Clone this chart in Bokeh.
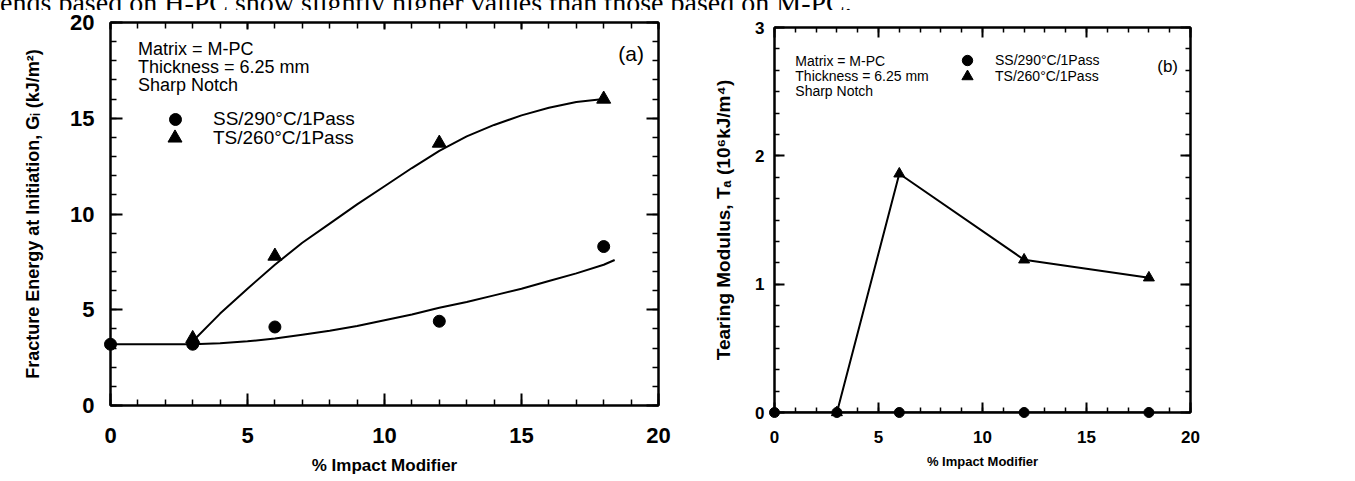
from bokeh.plotting import figure
from bokeh.models import (Range1d, LinearAxis, SingleIntervalTicker, Label,
                          Legend, LegendItem, Div, CustomJSTickFormatter)
from bokeh.layouts import row, column
from bokeh.embed import file_html
from bokeh.resources import INLINE

# ---------------- data ----------------
# % impact modifier
x_ss = [0, 3, 6, 12, 18]
x_ts = [3, 6, 12, 18]

# (a) fracture energy at initiation, G_I (kJ/m^2)
gi_ss = [3.2, 3.2, 4.1, 4.4, 8.3]
gi_ts = [3.5, 7.8, 13.7, 16.0]

# (a) trend curves through each series
fit_ss_x = [0, 3, 4, 5, 6, 7, 8, 9, 10, 11, 12, 13, 14, 15, 16, 17, 18, 18.4]
fit_ss_y = [3.2, 3.2, 3.25, 3.35, 3.5, 3.7, 3.9, 4.15, 4.45, 4.75, 5.1, 5.4,
            5.75, 6.1, 6.5, 6.9, 7.35, 7.6]
fit_ts_x = [3.1, 4, 5, 6, 7, 8, 9, 10, 11, 12, 13, 14, 15, 16, 17, 18]
fit_ts_y = [3.5, 4.8, 6.1, 7.35, 8.5, 9.5, 10.5, 11.45, 12.4, 13.3, 14.05,
            14.65, 15.15, 15.55, 15.85, 16.0]

# (b) tearing modulus, T_a (10^6 kJ/m^4)
ta_ss = [0.0, 0.0, 0.0, 0.0, 0.0]
ta_ts = [0.0, 1.86, 1.19, 1.05]

series_names = ["SS/290\u00b0C/1Pass", "TS/260\u00b0C/1Pass"]
notes = ["Matrix = M-PC", "Thickness = 6.25 mm", "Sharp Notch"]

SANS = "Liberation Sans"
CAPTION_H = 10
PLOT_H = 481 - CAPTION_H


def style_axis(ax, ticker, size, major_in, minor_in, standoff, labels=True):
    ax.ticker = ticker
    ax.axis_line_width = 2
    ax.axis_line_color = "black"
    ax.major_tick_in = major_in
    ax.major_tick_out = 0
    ax.minor_tick_in = minor_in
    ax.minor_tick_out = 0
    ax.major_tick_line_width = 2
    ax.minor_tick_line_width = 1.5
    ax.major_tick_line_color = "black"
    ax.minor_tick_line_color = "black"
    ax.major_label_text_font = SANS
    ax.major_label_text_font_style = "bold"
    ax.major_label_standoff = standoff
    if labels:
        ax.major_label_text_font_size = size
        ax.major_label_text_color = "black"
    else:
        # mirrored axis: ticks only
        ax.formatter = CustomJSTickFormatter(code="return ''")
        ax.major_label_text_font_size = "1px"
        ax.major_label_text_color = None


def make_panel(width, height, yr, borders, ytick, cfg):
    left, right, top, bottom = borders
    p = figure(width=width, height=height, x_range=Range1d(0, 20),
               y_range=Range1d(*yr), output_backend="svg",
               toolbar_location=None, min_border_left=left,
               min_border_right=right, min_border_top=top,
               min_border_bottom=bottom, background_fill_color="white",
               border_fill_color="white", frame_align=False)
    p.xgrid.visible = False
    p.ygrid.visible = False
    p.outline_line_color = "black"
    p.outline_line_width = 2

    xax = p.xaxis[0]
    yax = p.yaxis[0]
    style_axis(xax, SingleIntervalTicker(interval=5, num_minor_ticks=5),
               cfg["tick"], cfg["maj"], cfg["min"], cfg["xstand"])
    style_axis(yax, ytick(), cfg["tick"], cfg["maj"], cfg["min"],
               cfg["ystand"])
    top_ax = LinearAxis()
    right_ax = LinearAxis()
    style_axis(top_ax, SingleIntervalTicker(interval=5, num_minor_ticks=5),
               cfg["tick"], cfg["topmaj"], cfg["min"], 0, False)
    style_axis(right_ax, ytick(), cfg["tick"], cfg["maj"], cfg["min"], 0,
               False)
    p.add_layout(top_ax, "above")
    p.add_layout(right_ax, "right")

    xax.axis_label = "% Impact Modifier"
    yax.axis_label = cfg["ytitle"]
    for ax, fs, st in ((xax, cfg["xlab"], cfg["xlstand"]),
                       (yax, cfg["ylab"], cfg["ylstand"])):
        ax.axis_label_text_font = SANS
        ax.axis_label_text_font_style = "bold"
        ax.axis_label_text_font_size = fs
        ax.axis_label_text_color = "black"
        ax.axis_label_standoff = st
    return p


def key(p, renderer, label, loc, glyph, standoff, font_size):
    p.add_layout(Legend(items=[LegendItem(label=label, renderers=[renderer])],
                        location=loc, glyph_width=glyph, glyph_height=glyph,
                        label_standoff=standoff, spacing=0, padding=0,
                        margin=0, border_line_color=None,
                        background_fill_alpha=0, label_text_font=SANS,
                        label_text_font_size=font_size,
                        label_text_color="black", label_height=10))


# ---------------- panel (a) ----------------
pa = make_panel(700, PLOT_H, (0, 20), (110, 42, 12, 76),
                lambda: SingleIntervalTicker(interval=5, num_minor_ticks=5),
                dict(tick="22px", maj=12, topmaj=7, min=6, xstand=22,
                     ystand=16, xlab="17px", ylab="18px", xlstand=10,
                     ylstand=24,
                     ytitle="Fracture Energy at Initiation, G\u1d62 (kJ/m\u00b2)"))

pa.line(fit_ss_x, fit_ss_y, line_color="black", line_width=2)
pa.line(fit_ts_x, fit_ts_y, line_color="black", line_width=2)
ra_ss = pa.scatter(x_ss, gi_ss, marker="circle", size=12, color="black",
                   level="overlay")
ra_ts = pa.scatter(x_ts, gi_ts, marker="triangle", size=14, color="black",
                   level="overlay")

for i, t in enumerate(notes):
    pa.add_layout(Label(x=1.0, y=18.64 - 0.96 * i, text=t, text_font=SANS,
                        text_font_size="18px", text_baseline="middle",
                        text_color="black"))
pa.add_layout(Label(x=19.0, y=18.4, text="(a)", text_font=SANS,
                    text_font_size="21px", text_align="center",
                    text_baseline="middle", text_color="black"))

key(pa, ra_ss, series_names[0], (50, 271), 30, 23, "19px")
key(pa, ra_ts, series_names[1], (47, 250), 35, 21, "19px")

# ---------------- panel (b) ----------------
pb = make_panel(655, PLOT_H, (0, 3), (74, 165, 17, 69),
                lambda: SingleIntervalTicker(interval=1, num_minor_ticks=6),
                dict(tick="17px", maj=10, topmaj=10, min=5, xstand=18,
                     ystand=10, xlab="13px", ylab="19px", xlstand=8,
                     ylstand=18,
                     ytitle="Tearing Modulus, T\u2090 (10\u2076kJ/m\u2074)"))

pb.line(x_ss, ta_ss, line_color="black", line_width=2)
pb.line(x_ts, ta_ts, line_color="black", line_width=2)
rb_ss = pb.scatter(x_ss, ta_ss, marker="circle", size=10, color="black",
                   level="overlay")
rb_ts = pb.scatter(x_ts, ta_ts, marker="triangle", size=11, color="black",
                   level="overlay")

for i, t in enumerate(notes):
    pb.add_layout(Label(x=1.0, y=2.74 - 0.117 * i, text=t, text_font=SANS,
                        text_font_size="14px", text_baseline="middle",
                        text_color="black"))
pb.add_layout(Label(x=18.9, y=2.7, text="(b)", text_font=SANS,
                    text_font_size="17px", text_align="center",
                    text_baseline="middle", text_color="black"))

key(pb, rb_ss, series_names[0], (180, 339), 26, 15, "14px")
key(pb, rb_ts, series_names[1], (179, 322), 28, 14, "14px")

# running text of the page, cut off by the top edge
caption = Div(
    text=("<div style=\"font-family:'Liberation Serif';font-size:28px;"
          "line-height:28px;white-space:nowrap;margin-top:-15px;"
          "margin-left:-17px;color:#000\">trends based on H-PC show slightly "
          "higher values than those based on M-PC.</div>"),
    width=1355, height=CAPTION_H, margin=0, styles={"overflow": "hidden"})

layout = column(caption, row(pa, pb, spacing=0), spacing=0)

with open("out.html", "w") as f:
    f.write(file_html(layout, INLINE))
